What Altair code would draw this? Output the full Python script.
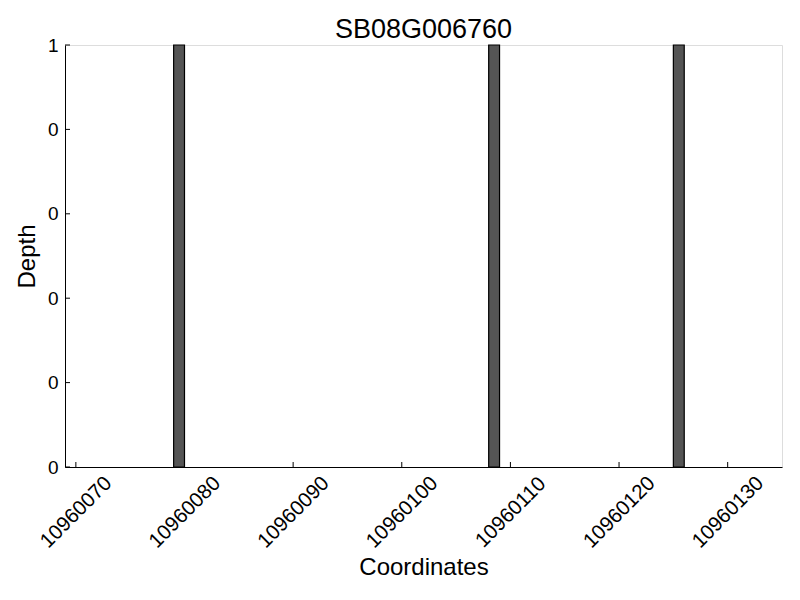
import altair as alt
import pandas as pd

title_text = "SB08G006760"
positions = [10960079, 10960108, 10960125]
depths = [1, 1, 1]
x_ticks = [10960070, 10960080, 10960090, 10960100, 10960110, 10960120, 10960130]
y_ticks = [0, 0.2, 0.4, 0.6, 0.8, 1.0]
x_domain = [10960069, 10960135]
y_domain = [0, 1]

W, H = 717, 422
FONT = "Liberation Sans"

bars_df = pd.DataFrame({"pos": positions, "depth": depths})
xt_df = pd.DataFrame({"v": x_ticks})
yt_df = pd.DataFrame({"v": y_ticks})
title_df = pd.DataFrame({"t": [title_text]})

xscale = alt.Scale(domain=x_domain, nice=False, zero=False)
yscale = alt.Scale(domain=y_domain, nice=False)

bars = alt.Chart(bars_df).transform_calculate(
    end="datum.pos + 1"
).mark_rect(fill="#555555", stroke="black", strokeWidth=1.2).encode(
    x=alt.X("pos:Q", scale=xscale,
            axis=alt.Axis(values=x_ticks, format="d", title="Coordinates",
                          labelAngle=315, labelAlign="center", labelBaseline="middle",
                          labelPadding=45, ticks=False, tickSize=0, grid=False,
                          labelFontSize=20.5, labelFont=FONT, labelColor="black",
                          labelOverlap=False, labelFlush=False,
                          titleFontSize=24, titleFont=FONT, titleFontWeight="normal",
                          titleColor="black", titleX=W / 2, titleY=100,
                          titleBaseline="middle", titleAlign="center",
                          domainColor="black", domainWidth=1)),
    x2="end:Q",
    y=alt.Y("depth:Q", scale=yscale,
            axis=alt.Axis(values=y_ticks, labelExpr="floor(datum.value)", title="Depth",
                          ticks=False, tickSize=0, grid=False, labelPadding=7,
                          labelFontSize=19, labelFont=FONT, labelColor="black",
                          labelOverlap=False, labelFlush=False, labelBaseline="middle",
                          titleFontSize=24, titleFont=FONT, titleFontWeight="normal",
                          titleColor="black", titleX=-38, titleY=H / 2, titleAngle=270,
                          titleBaseline="middle", titleAlign="center",
                          domainColor="black", domainWidth=1)),
    y2=alt.Y2(datum=0),
)

xticks_layer = alt.Chart(xt_df).mark_rule(color="black", strokeWidth=1).encode(
    x=alt.X("v:Q", scale=xscale),
    y=alt.value(H),
    y2=alt.value(H - 5),
)

yticks_layer = alt.Chart(yt_df).mark_rule(color="black", strokeWidth=1).encode(
    y=alt.Y("v:Q", scale=yscale),
    x=alt.value(0),
    x2=alt.value(5),
)

title_layer = alt.Chart(title_df).mark_text(
    font=FONT, fontSize=27, color="black", align="center", baseline="alphabetic"
).encode(
    text="t:N",
    x=alt.value(W / 2),
    y=alt.value(-7),
)

chart = alt.layer(bars, xticks_layer, yticks_layer, title_layer).properties(
    width=W,
    height=H,
    autosize=alt.AutoSizeParams(type="none"),
    padding={"left": 57, "top": 37, "right": 10, "bottom": 125},
).configure_view(stroke=None).configure(background="white")

chart.save("out.html", embed_options={"renderer": "svg", "actions": False})
